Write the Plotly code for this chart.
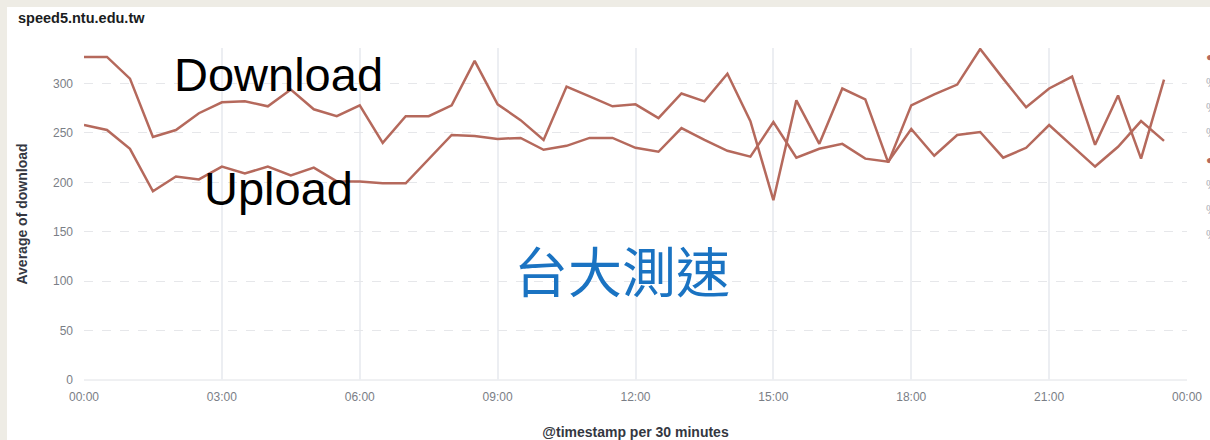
import plotly.graph_objects as go
import pandas as pd

# ---- data ----
times = pd.date_range("2020-01-01 00:00", periods=48, freq="30min")
download = [327, 327, 305, 246, 253, 270, 281, 282, 277, 294, 274, 267,
            278, 240, 267, 267, 278, 323, 279, 263, 243, 297, 287, 277,
            279, 265, 290, 282, 310, 262, 182, 283, 239, 295, 284, 220,
            278, 289, 299, 335, 305, 276, 295, 307, 238, 288, 224, 304]
upload = [258, 253, 234, 191, 206, 203, 216, 209, 216, 207, 215, 201,
          201, 199, 199, 223, 248, 247, 244, 245, 233, 237, 245, 245,
          235, 231, 255, 243, 232, 226, 261, 225, 234, 239, 224, 221,
          254, 227, 248, 251, 225, 235, 258, 237, 216, 236, 262, 242]
y_ticks = [0, 50, 100, 150, 200, 250, 300]

W, H = 1210, 440
L, R, T, B = 84, 1187, 48, 380
LINE = "#b5695c"
TICK = "#7a7e86"

def px(x):
    return (x - L) / (R - L)

def py(y):
    return (B - y) / (B - T)

fig = go.Figure()
for name, vals in [("download", download), ("upload", upload)]:
    fig.add_trace(go.Scatter(x=times, y=vals, mode="lines", name=name,
                             line=dict(color=LINE, width=2.5),
                             showlegend=False))

fig.update_layout(
    width=W, height=H,
    margin=dict(l=L, r=W - R, t=T, b=H - B, autoexpand=False),
    paper_bgcolor="#eeece5",
    plot_bgcolor="rgba(0,0,0,0)",
    font=dict(family="Liberation Sans, Arial, sans-serif", color=TICK, size=12),
    xaxis=dict(
        range=["2020-01-01 00:00", "2020-01-02 00:00"],
        tickformat="%H:%M", dtick=3 * 3600 * 1000,
        tick0="2020-01-01 00:00",
        showgrid=True, gridcolor="#eceef2", gridwidth=2,
        zeroline=False, showline=False, ticks="", automargin=False,
        ticklabelstandoff=8,
        title=dict(text="<b>@timestamp per 30 minutes</b>",
                   font=dict(size=14, color="#343741"), standoff=26),
        tickfont=dict(size=12, color=TICK),
    ),
    yaxis=dict(
        range=[0, 336], tickvals=y_ticks,
        showgrid=True, gridcolor="#e6e7ea", griddash="dash", gridwidth=1,
        zeroline=False, showline=False, ticks="", automargin=False,
        ticklabelstandoff=10,
        title=dict(text="<b>Average of download</b>",
                   font=dict(size=14, color="#343741"), standoff=22),
        tickfont=dict(size=12, color=TICK),
    ),
    shapes=[
        dict(type="rect", xref="paper", yref="paper", layer="below",
             x0=px(7), x1=px(W + 10), y0=py(H + 10), y1=py(7),
             fillcolor="white", line=dict(width=0)),
        dict(type="line", xref="paper", yref="paper", layer="below",
             x0=0, x1=1, y0=0, y1=0, line=dict(color="#e0e2e6", width=1)),
    ],
    annotations=[
        dict(text="<b>speed5.ntu.edu.tw</b>", xref="paper", yref="paper",
             x=px(16), y=py(18), xanchor="left", yanchor="middle",
             showarrow=False, font=dict(size=14.5, color="#1a1c21")),
        dict(text="Download", xref="paper", yref="paper",
             x=px(172), y=py(74), xanchor="left", yanchor="middle",
             showarrow=False, font=dict(size=47, color="black",
                                        family="Liberation Sans, Arial")),
        dict(text="Upload", xref="paper", yref="paper",
             x=px(202), y=py(189), xanchor="left", yanchor="middle",
             showarrow=False, font=dict(size=47, color="black",
                                        family="Liberation Sans, Arial")),
        dict(text="台大測速", xref="paper", yref="paper",
             x=px(512), y=py(269), xanchor="left", yanchor="middle",
             showarrow=False, font=dict(size=54, color="#1a73c2",
                                        family="Noto Sans CJK TC")),
    ],
)

# partially visible legend at the right edge
for yy, txt, col in [(57, "●", LINE), (83, "%", "#aeb1b8"), (108, "%", "#aeb1b8"),
                     (133, "%", "#aeb1b8"), (160, "●", LINE), (185, "%", "#aeb1b8"),
                     (210, "%", "#aeb1b8"), (235, "%", "#aeb1b8")]:
    fig.add_annotation(text=txt, xref="paper", yref="paper", x=px(1204), y=py(yy),
                       xanchor="left", yanchor="middle", showarrow=False,
                       font=dict(size=12, color=col))

fig.write_html("out.html", config={"displayModeBar": False},
               post_script="document.body.style.margin='0px';"
                           "document.body.style.overflow='hidden';")
